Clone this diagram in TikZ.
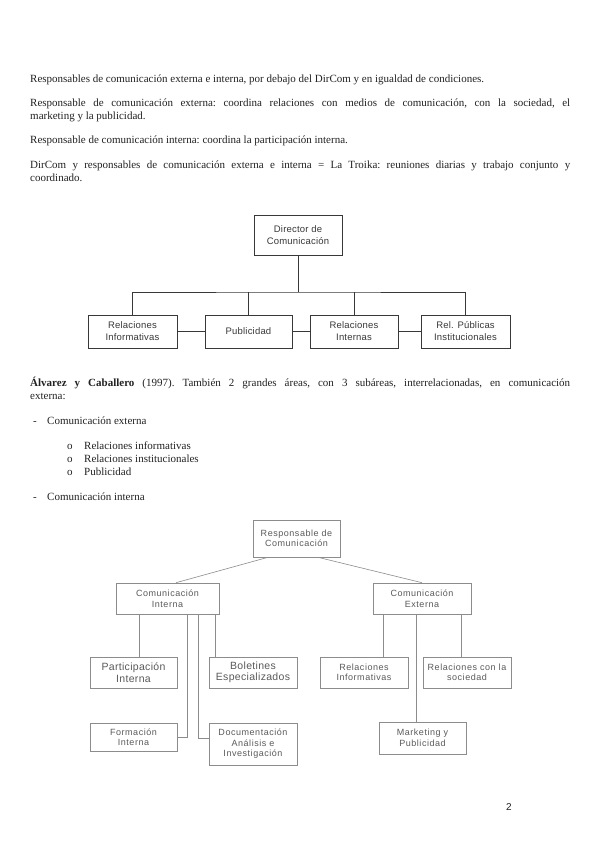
\documentclass[tikz,border=0pt]{standalone}
\usepackage{fontspec}
\setmainfont{Liberation Serif}
\newfontfamily\chartfont[LetterSpace=2]{Liberation Sans}
\newfontfamily\chartwide[LetterSpace=6]{Liberation Sans}
\newfontfamily\chartbig[LetterSpace=3]{Liberation Sans}
\newfontfamily\footfont{Liberation Sans}
\usetikzlibrary{positioning, calc}

\definecolor{cBody}     {HTML}{222222}
\definecolor{cChartA}   {HTML}{383838}
\definecolor{cChartB}   {HTML}{8C8C8C}
\definecolor{cChartBTxt}{HTML}{5A5A5A}

\tikzset{
  para/.style={anchor=base west, inner sep=0pt, text width=540pt, align=justify,
    font=\frenchspacing\fontsize{11}{13}\selectfont, text=cBody},
  bodyline/.style={anchor=base west, inner sep=0pt, font=\fontsize{11}{13}\selectfont, text=cBody},
  boxA/.style={draw=cChartA, line width=0.8pt, inner sep=0pt, align=center, text=cChartA,
    font=\chartfont\fontsize{9.5}{12}\selectfont},
  linkA/.style={draw=cChartA, line width=0.8pt},
  boxB/.style={draw=cChartB, line width=0.6pt, inner sep=0pt, align=center, text=cChartBTxt,
    font=\chartwide\fontsize{9}{10.5}\selectfont},
  boxBbig/.style={boxB, font=\chartbig\fontsize{10.5}{11.5}\selectfont},
  linkB/.style={draw=cChartB, line width=0.6pt},
}

\begin{document}
\begin{tikzpicture}[x=1pt, y=-1pt]
  \fill[white] (0,0) rectangle (599,848);
  \useasboundingbox (0,0) rectangle (599,848);

  % text above the first chart
  \node[para] (p1) at (30,82.5) {Responsables de comunicación externa e interna, por debajo del DirCom y en igualdad de condiciones.};
  \node[para] (p2) at (30,106.5) {Responsable de comunicación externa: coordina relaciones con medios de comunicación, con la sociedad, el\linebreak marketing y la publicidad.};
  \node[para] (p3) at (30,143.5) {Responsable de comunicación interna: coordina la participación interna.};
  \node[para] (p4) at (30,168.5) {DirCom y responsables de comunicación externa e interna = La Troika: reuniones diarias y trabajo conjunto y\linebreak coordinado.};

  % first chart
  \node[boxA, minimum width=88pt, minimum height=40pt] (dir) at (298,235) {Director de\\Comunicación};
  \node[boxA, minimum width=89pt, minimum height=33pt] (relinf) at (132.5,331.5) {Relaciones\\Informativas};
  \node[boxA, minimum width=87pt, minimum height=33pt] (pub) at (248.5,331.5) {Publicidad};
  \node[boxA, minimum width=88pt, minimum height=33pt] (relint) at (354,331.5) {Relaciones\\Internas};
  \node[boxA, minimum width=89pt, minimum height=33pt] (relpub) at (465.5,331.5) {Rel. Públicas\\Institucionales};
  \coordinate (bus) at (298,292);
  \draw[linkA] (dir.south) -- (bus);
  \draw[linkA] (relinf.north) |- (bus) -| (relpub.north);
  \foreach \n in {pub, relint}
    \draw[linkA] (\n.north) -- (\n.north |- bus);
  \draw[linkA] (relinf) -- (pub);
  \draw[linkA] (pub) -- (relint);
  \draw[linkA] (relint) -- (relpub);

  % text between the charts
  \node[para] (p5) at (30,386.5) {\textbf{Álvarez y Caballero} (1997). También 2 grandes áreas, con 3 subáreas, interrelacionadas, en comunicación\linebreak externa:};
  \node[bodyline] (d1) at (33,424.5) {-};
  \node[bodyline] (l1) at (47,424.5) {Comunicación externa};
  \foreach \t [count=\i] in {Relaciones informativas, Relaciones institucionales, Publicidad} {
    \node[bodyline] (o\i) at (67,436.5+13*\i) {o};
    \node[bodyline] (s\i) at (84,436.5+13*\i) {\t};
  }
  \node[bodyline] (d2) at (33,500.5) {-};
  \node[bodyline] (l2) at (47,500.5) {Comunicación interna};

  % second chart
  \node[boxB, minimum width=87pt, minimum height=37pt] (resp) at (296.5,538.5) {Responsable de\\Comunicación};
  \node[boxB, minimum width=103pt, minimum height=31pt] (cint) at (167.5,598.5) {Comunicación\\Interna};
  \node[boxB, minimum width=98pt, minimum height=31pt] (cext) at (422,598.5) {Comunicación\\Externa};
  \draw[linkB] ([xshift=-28.5pt]resp.south) -- ([xshift=8.5pt]cint.north);
  \draw[linkB] ([xshift=21.5pt]resp.south) -- (cext.north);

  \node[boxBbig, minimum width=87pt, minimum height=31pt] (part) at (133.5,672.5) {Participación\\Interna};
  \node[boxBbig, minimum width=88pt, minimum height=31pt] (bol) at (253,672.5) {Boletines\\Especializados};
  \node[boxB, minimum width=87pt, minimum height=28pt] (form) at (133.5,737) {Formación\\Interna};
  \node[boxB, minimum width=88pt, minimum height=42pt] (doc) at (253,744) {Documentación\\Análisis e\\Investigación};
  \draw[linkB] ($(part.north)+(5.5,0)$) coordinate (pn) -- (pn |- cint.south);
  \draw[linkB] ($(bol.north)+(-38,0)$) coordinate (bn) -- (bn |- cint.south);
  \draw[linkB] ([xshift=19.5pt]cint.south) |- (form.east);
  \draw[linkB] ([xshift=30.5pt]cint.south) |- ([yshift=6pt]doc.west);

  \node[boxB, minimum width=88pt, minimum height=31pt] (rinf) at (364,672.5) {Relaciones\\Informativas};
  \node[boxB, minimum width=88pt, minimum height=31pt] (rsoc) at (467,672.5) {Relaciones con la\\sociedad};
  \node[boxB, minimum width=87pt, minimum height=32pt] (mkt) at (422.5,738) {Marketing y\\Publicidad};
  \draw[linkB] ($(rinf.north)+(19,0)$) coordinate (rn) -- (rn |- cext.south);
  \draw[linkB] ($(rsoc.north)+(-6,0)$) coordinate (sn) -- (sn |- cext.south);
  \draw[linkB] ($(mkt.north)+(-6.5,0)$) coordinate (mn) -- (mn |- cext.south);

  \node[anchor=base west, inner sep=0pt, font=\footfont\fontsize{10}{12}\selectfont, text=cBody] (pg) at (506,810) {2};
\end{tikzpicture}
\end{document}
